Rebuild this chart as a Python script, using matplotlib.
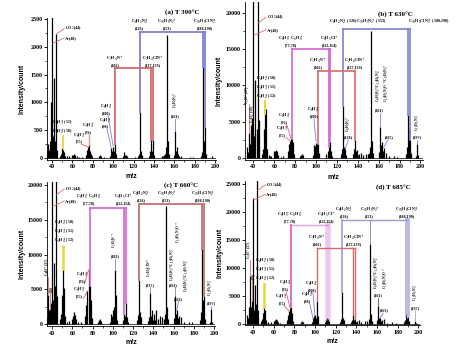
import matplotlib
matplotlib.use("Agg")
import matplotlib.pyplot as plt
from matplotlib.ticker import MultipleLocator

# peak lists (m/z, intensity)
peaks_a = [(34, 260), (35, 120), (36, 260), (37, 150), (38, 300), (39, 1000), (40, 2600), (41, 400),
           (42, 1440), (43, 300), (44, 2230), (45, 150), (48, 40), (49, 80), (50, 180), (51, 150),
           (52, 100), (53, 40), (55, 30), (57, 40), (60, 60), (61, 60), (62, 80), (63, 60), (64, 30),
           (66, 20), (69, 20), (73, 60), (74, 150), (75, 200), (76, 230), (77, 120), (78, 80), (79, 30),
           (86, 30), (87, 50), (88, 30), (91, 20), (97, 40), (98, 180), (99, 120), (100, 200), (101, 130),
           (102, 250), (103, 70), (110, 40), (111, 110), (112, 60), (113, 60), (114, 30), (121, 20),
           (124, 30), (125, 80), (126, 820), (127, 120), (128, 60), (135, 40), (136, 120), (137, 330),
           (138, 130), (139, 320), (140, 60), (148, 30), (149, 40), (150, 60), (151, 80), (152, 200),
           (153, 2210), (154, 300), (155, 80), (160, 60), (161, 490), (162, 120), (163, 200), (164, 80),
           (165, 40), (167, 40), (175, 20), (178, 20), (186, 40), (187, 100), (188, 1640), (189, 300),
           (190, 560), (191, 80), (197, 30)]

peaks_b = [(34, 1500), (35, 800), (36, 3500), (37, 2000), (38, 4500), (39, 5500), (40, 22000), (41, 3000),
           (42, 10700), (43, 4000), (44, 22000), (45, 5300), (48, 600), (49, 1200), (50, 4000), (51, 6000),
           (52, 6700), (53, 1200), (55, 400), (56, 300), (57, 300), (60, 900), (61, 1000), (62, 1100),
           (63, 900), (64, 400), (66, 200), (68, 300), (73, 900), (74, 2000), (75, 2400), (76, 2700),
           (77, 2600), (78, 2200), (79, 600), (85, 300), (86, 400), (87, 600), (88, 400), (97, 400),
           (98, 1800), (99, 1700), (100, 2100), (101, 2000), (102, 2000), (103, 700), (110, 500),
           (111, 900), (112, 1500), (113, 2200), (114, 900), (115, 300), (124, 500), (125, 1200),
           (126, 7200), (127, 1500), (128, 1200), (129, 400), (135, 500), (136, 1200), (137, 2500),
           (138, 1000), (139, 1100), (140, 400), (141, 600), (143, 700), (145, 400), (148, 500),
           (150, 600), (151, 700), (152, 1500), (153, 17500), (154, 2400), (155, 700), (160, 800),
           (161, 4300), (162, 1800), (163, 2200), (164, 900), (165, 1400), (167, 700), (170, 300),
           (175, 300), (178, 200), (186, 500), (187, 1500), (188, 5900), (189, 4000), (190, 2500),
           (191, 700), (196, 300), (197, 2000), (198, 400)]

peaks_c = [(34, 2000), (35, 1000), (36, 4200), (37, 2000), (38, 2200), (39, 3000), (40, 21000), (41, 3500),
           (42, 8800), (43, 5500), (44, 21000), (45, 4000), (48, 800), (49, 1500), (50, 4200), (51, 7900),
           (52, 5200), (53, 1200), (55, 400), (57, 500), (60, 800), (61, 1200), (62, 1700), (63, 1400),
           (64, 700), (66, 300), (69, 300), (73, 1200), (74, 2800), (75, 4800), (76, 7800), (77, 5500),
           (78, 3500), (79, 900), (85, 400), (86, 600), (87, 800), (88, 500), (97, 400), (98, 1500),
           (99, 1200), (100, 2000), (101, 2500), (102, 7800), (103, 4200), (104, 600), (110, 600),
           (111, 1500), (112, 1200), (113, 3000), (114, 1000), (115, 300), (124, 600), (125, 1400),
           (126, 6300), (127, 1800), (128, 1000), (135, 500), (136, 1000), (137, 4500), (138, 1200),
           (139, 2000), (140, 600), (141, 1500), (142, 600), (143, 2000), (145, 800), (147, 1200),
           (149, 1000), (151, 800), (152, 1500), (153, 17000), (154, 2500), (155, 800), (160, 900),
           (161, 4000), (162, 1500), (163, 2000), (164, 900), (165, 1200), (167, 1100), (170, 300),
           (175, 400), (178, 300), (186, 600), (187, 1800), (188, 10800), (189, 3500), (190, 4000),
           (191, 800), (196, 300), (197, 2200), (198, 400)]

peaks_d = [(34, 1500), (35, 1000), (36, 3000), (37, 8500), (38, 3000), (39, 4000), (40, 22600), (41, 2500),
           (42, 7000), (43, 3500), (44, 26000), (45, 2500), (48, 400), (49, 800), (50, 2000), (51, 3000),
           (52, 2500), (53, 700), (55, 300), (57, 300), (60, 500), (61, 700), (62, 900), (63, 700),
           (64, 300), (66, 200), (73, 600), (74, 1500), (75, 2200), (76, 2800), (77, 3000), (78, 2000),
           (79, 500), (86, 300), (87, 500), (88, 300), (97, 300), (98, 1000), (99, 1300), (100, 1500),
           (101, 1000), (102, 4000), (103, 1300), (110, 300), (111, 600), (112, 1000), (113, 800),
           (114, 500), (124, 300), (125, 800), (126, 5600), (127, 1000), (128, 600), (135, 300),
           (136, 600), (137, 1500), (138, 600), (139, 800), (140, 300), (141, 500), (143, 600),
           (145, 300), (148, 400), (150, 500), (152, 800), (153, 14300), (154, 1800), (155, 500),
           (160, 600), (161, 3200), (162, 1000), (163, 1000), (164, 500), (165, 700), (167, 900),
           (170, 200), (175, 300), (178, 200), (186, 300), (187, 600), (188, 1800), (189, 1000),
           (190, 1200), (191, 400), (197, 500), (198, 200)]

titles = ["(a) T 390°C", "(b) T 630°C", "(c) T 660°C", "(d) T 685°C"]
x_ticks = [40, 60, 80, 100, 120, 140, 160, 180, 200]

BLUE = "#7f7fd2"
RED = "#d46c6c"
MAG = "#d264d2"
YEL = "#e6d63a"
SAL = "#c47a7a"
LAV = "#9c9cd8"

serif = "Liberation Serif"
LFS = 3.0
RFS = 2.6

fig = plt.figure(figsize=(4.58, 3.62), dpi=100)
rects = [[0.1026, 0.5575, 0.369, 0.393],
         [0.535, 0.5575, 0.3875, 0.4367],
         [0.1026, 0.0983, 0.367, 0.3986],
         [0.535, 0.1011, 0.3817, 0.399]]
xlims = [(35, 201), (32, 202), (35, 201), (32.3, 201.5)]
ylims = [(-40, 2520), (-300, 21500), (-300, 20400), (-300, 25600)]
ysteps = [500, 5000, 5000, 5000]
all_peaks = [peaks_a, peaks_b, peaks_c, peaks_d]
title_pos = [(0.80, 1.035), (0.85, 0.92), (0.80, 0.97), (0.85, 0.95)]

axes = []
for i in range(4):
    ax = fig.add_axes(rects[i])
    mz = [p[0] for p in all_peaks[i]]
    h = [p[1] for p in all_peaks[i]]
    ax.vlines(mz, 0, h, color="black", lw=0.9)
    ax.axhline(0, color="black", lw=0.5)
    ax.set_xlim(*xlims[i])
    ax.set_ylim(*ylims[i])
    ax.set_xticks(x_ticks)
    ax.xaxis.set_minor_locator(MultipleLocator(10))
    ax.yaxis.set_major_locator(MultipleLocator(ysteps[i]))
    ax.yaxis.set_minor_locator(MultipleLocator(ysteps[i] / 2))
    ax.set_yticks([t for t in ax.get_yticks() if 0 <= t <= ylims[i][1]])
    ax.spines["top"].set_visible(False)
    ax.spines["right"].set_visible(False)
    for s in ["left", "bottom"]:
        ax.spines[s].set_linewidth(0.6)
    ax.tick_params(which="major", direction="out", length=2, width=0.6, labelsize=4.3, pad=1)
    ax.tick_params(which="minor", direction="out", length=1.2, width=0.5)
    for lab in ax.get_xticklabels() + ax.get_yticklabels():
        lab.set_fontfamily(serif)
        lab.set_fontweight("bold")
    ax.set_ylabel("Intensity/count", fontsize=5, fontweight="bold", family="Liberation Sans")
    ax.yaxis.set_label_coords(-0.125, 0.5)
    ax.set_xlabel("m/z", fontsize=5, fontweight="bold", family="Liberation Sans")
    ax.xaxis.set_label_coords(0.5, -0.09)
    ax.text(title_pos[i][0], title_pos[i][1], titles[i], transform=ax.transAxes, ha="center",
            va="center", fontsize=5, fontweight="bold", family=serif)
    axes.append(ax)


def lab(ax, x, y, s, rot=0, va="bottom", ha="center", fs=LFS):
    ax.text(x, y, s, fontsize=fs, family=serif, ha=ha, va=va, rotation=rot,
            linespacing=1.0, fontweight="bold")


def rlab(ax, x, y, s):
    lab(ax, x, y, s, rot=90, fs=RFS)


def bracket(ax, peaks, xs, level, color, lw=1.2, alpha=1.0):
    h = dict(peaks)
    for x in xs:
        ax.plot([x, x], [h[x], level], color=color, lw=lw, alpha=alpha)
    ax.plot([min(xs), max(xs)], [level, level], color=color, lw=lw, alpha=alpha)


def pointer(ax, x0, y0, x1, y1, color, lw=0.6):
    ax.plot([x0, x1], [y0, y1], color=color, lw=lw)


def gas_labels(ax, co2_y, ar_y, ymax):
    pointer(ax, 44.5, co2_y - 0.04 * ymax, 52, co2_y, RED)
    pointer(ax, 40.5, ar_y - 0.04 * ymax, 52, ar_y, RED)
    lab(ax, 53, co2_y, "CO$_2$(44)", va="center", ha="left")
    lab(ax, 53, ar_y, "Ar(40)", va="center", ha="left")


# (a)
ax = axes[0]
gas_labels(ax, 2330, 2160, 2500)
bracket(ax, peaks_a, [126, 188, 190], 2270, BLUE, lw=1.3)
bracket(ax, peaks_a, [102, 137, 139], 1610, RED, lw=1.3)
for x, s in [(126, "C$_8$H$_2$N$_2^+$\n(126)"), (153, "C$_{10}$H$_5$N$_2^+$\n(153)"),
             (190, "C$_{10}$H$_5$ClN$_2^+$\n(188,190)")]:
    lab(ax, x, 2300, s)
lab(ax, 102, 1640, "C$_7$H$_4$N$^+$\n(102)")
lab(ax, 139, 1640, "C$_7$H$_4$ClN$^+$\n(137,139)")
ax.plot([50.5, 50.5], [180, 390], color=YEL, lw=1.3)
lab(ax, 50, 400, "C$_4$H$_3^+$(51)\nC$_4$H$_2^+$(50)")
ax.plot([76, 76], [230, 420], color=RED, lw=1.0, alpha=0.7)
lab(ax, 76, 430, "C$_6$H$_4^+$\n(76)")
pointer(ax, 75, 200, 69, 250, RED)
lab(ax, 67, 260, "C$_6$H$_3^+$\n(75)")
pointer(ax, 98, 190, 94, 520, BLUE)
lab(ax, 92, 530, "C$_8$H$_2^+$\n(98)")
pointer(ax, 100, 210, 95, 760, BLUE)
lab(ax, 93, 770, "C$_8$H$_4^+$\n(100)")
pointer(ax, 161, 500, 161, 700, BLUE)
lab(ax, 161, 710, "(161)")
rlab(ax, 161, 900, "C$_9$H$_3$N$_3^+$")

# (b)
ax = axes[1]
gas_labels(ax, 19400, 17700, 20000)
bracket(ax, peaks_b, [126, 188, 190], 17800, BLUE, lw=1.2)
bracket(ax, peaks_b, [77, 112, 113], 15000, MAG, lw=1.2)
bracket(ax, peaks_b, [102, 137], 12000, RED, lw=1.2)
lab(ax, 126, 18200, "C$_8$H$_2$N$_2^+$ (126)")
lab(ax, 153, 18200, "C$_{10}$H$_5$N$_2^+$ (153)")
lab(ax, 188, 18200, "C$_{10}$H$_5$ClN$_2^+$ (188,190)", ha="left")
lab(ax, 76, 15300, "C$_6$H$_5^+$ C$_6$H$_6^+$\n(77,78)")
lab(ax, 113, 15300, "C$_6$H$_5$Cl$^+$\n(112,114)")
lab(ax, 102, 12300, "C$_7$H$_4$N$^+$\n(102)")
lab(ax, 137, 12300, "C$_7$H$_4$ClN$^+$\n(137,139)")
ax.plot([51, 51], [6000, 7800], color=YEL, lw=1.5)
lab(ax, 52, 7900, "C$_4$H$_2^+$(50)\nC$_4$H$_3^+$(51)\nC$_4$H$_4^+$(52)")
pointer(ax, 36, 3500, 36, 7400, RED)
pointer(ax, 38, 4500, 38, 4700, RED)
rlab(ax, 35.0, 7500, "C$_3$H$^+$(37)")
rlab(ax, 38.8, 4800, "C$_3$H$_2^+$(38)")
pointer(ax, 76, 2700, 72, 4600, RED)
lab(ax, 70, 4700, "C$_6$H$_4^+$\n(76)")
pointer(ax, 75, 2400, 71, 2800, RED)
lab(ax, 68, 2900, "C$_6$H$_3^+$\n(75)")
pointer(ax, 100, 2300, 98, 5400, BLUE)
lab(ax, 98, 5500, "C$_8$H$_4^+$\n(100)")
pointer(ax, 128, 1300, 131, 2500, BLUE)
lab(ax, 131, 2600, "(128)")
rlab(ax, 131, 3600, "C$_8$H$_4$N$_2^+$")
pointer(ax, 161, 4400, 161, 6200, BLUE)
lab(ax, 161, 6300, "(161)")
rlab(ax, 159.5, 7700, "C$_9$H$_3$N$_3^+$/C$_{10}$H$_6$N$_2^+$")
rlab(ax, 167.5, 7700, "C$_{10}$H$_5$N$_2$O$^+$/C$_9$H$_5$N$_3^+$")
pointer(ax, 165, 1500, 169, 2500, BLUE)
lab(ax, 170, 2600, "(165)")
pointer(ax, 197, 2000, 197, 2500, BLUE)
lab(ax, 197, 2600, "(197)")
rlab(ax, 197, 3700, "C$_{11}$H$_5$N$_3^+$")

# (c)
ax = axes[2]
gas_labels(ax, 19400, 17700, 20000)
bracket(ax, peaks_c, [77, 111, 113], 16700, MAG, lw=1.2)
bracket(ax, peaks_c, [126, 188, 190], 17300, SAL, lw=1.4)
lab(ax, 76, 17100, "C$_6$H$_5^+$ C$_6$H$_6^+$\n(77,78)")
lab(ax, 110.5, 17100, "C$_6$H$_5$Cl$^+$\n(112,114)")
lab(ax, 128, 17600, "C$_8$H$_2$N$_2^+$\n(126)")
lab(ax, 153, 17600, "C$_{10}$H$_5$N$_2^+$\n(153)")
lab(ax, 189, 17600, "C$_{10}$H$_5$ClN$_2^+$\n(188,190)")
ax.plot([51, 51], [7900, 11300], color=YEL, lw=1.8)
lab(ax, 52, 11400, "C$_4$H$_2^+$(50)\nC$_4$H$_3^+$(51)\nC$_4$H$_4^+$(52)")
pointer(ax, 36, 4200, 36, 6800, RED)
pointer(ax, 38, 2200, 38, 4500, RED)
rlab(ax, 35.8, 7000, "C$_3$H$^+$(37)")
rlab(ax, 39.0, 4600, "(38)")
pointer(ax, 76, 7800, 72, 5800, RED)
lab(ax, 70, 5900, "C$_6$H$_4^+$\n(76)")
pointer(ax, 75, 4800, 71, 3700, RED)
lab(ax, 67, 3800, "C$_6$H$_3^+$\n(75)")
pointer(ax, 102, 7800, 102, 9400, BLUE)
lab(ax, 102, 9500, "(102)")
rlab(ax, 102, 10900, "C$_7$H$_4$N$^+$")
pointer(ax, 137, 4500, 137, 5300, BLUE)
lab(ax, 137, 5400, "(137)")
rlab(ax, 137, 6800, "C$_7$H$_4$ClN$^+$")
pointer(ax, 161, 4000, 161, 5300, BLUE)
lab(ax, 160, 5400, "(161)")
rlab(ax, 158.5, 6200, "C$_9$H$_3$N$_3^+$/C$_{10}$H$_6$N$_2^+$")
rlab(ax, 165.5, 11700, "C$_{10}$H$_5$N$_2$O$^+$")
rlab(ax, 172.5, 4600, "C$_9$H$_5$N$_3^+$/C$_{10}$H$_7$N$_2^+$")
pointer(ax, 163, 2000, 165, 3300, BLUE)
lab(ax, 165, 3400, "(163)")
pointer(ax, 197, 2200, 197, 2600, BLUE)
lab(ax, 197, 2700, "(197)")
rlab(ax, 197, 4100, "C$_{11}$H$_5$N$_3^+$")

# (d)
ax = axes[3]
gas_labels(ax, 24900, 23200, 25000)
bracket(ax, peaks_d, [77], 17700, MAG, lw=1.3)
ax.plot([77, 113], [17700, 17700], color=MAG, lw=1.0, alpha=0.6)
ax.plot([113, 113], [1000, 17700], color=MAG, lw=4, alpha=0.35)
bracket(ax, peaks_d, [126], 18600, LAV, lw=1.2)
ax.plot([126, 189], [18600, 18600], color=LAV, lw=1.0)
ax.plot([189, 189], [1800, 18600], color=LAV, lw=3.5, alpha=0.7)
bracket(ax, peaks_d, [102, 137, 139], 13600, RED, lw=1.0)
ax.plot([153, 153], [14300, 18600], color="#888888", lw=0.6)
lab(ax, 76, 18000, "C$_6$H$_5^+$ C$_6$H$_6^+$\n(77,78)")
lab(ax, 111.5, 18000, "C$_6$H$_5$Cl$^+$\n(112,114)")
lab(ax, 128, 18900, "C$_8$H$_2$N$_2^+$\n(126)")
lab(ax, 153, 18900, "C$_{10}$H$_5$N$_2^+$\n(153)")
lab(ax, 189, 18900, "C$_{10}$H$_5$ClN$_2^+$\n(188,190)")
lab(ax, 102, 13900, "C$_7$H$_4$N$^+$\n(102)")
lab(ax, 138, 13900, "C$_7$H$_4$ClN$^+$\n(137,139)")
ax.plot([51, 51], [3000, 7200], color=YEL, lw=1.8)
lab(ax, 52, 7300, "C$_4$H$_2^+$(50)\nC$_4$H$_3^+$(51)\nC$_4$H$_4^+$(52)")
pointer(ax, 37, 8500, 37, 11500, RED)
pointer(ax, 39, 4000, 39, 8000, RED)
rlab(ax, 36.5, 11600, "C$_3$H$^+$(37)")
rlab(ax, 39.6, 8100, "(38)")
pointer(ax, 76, 2800, 72, 5700, RED)
lab(ax, 71, 5800, "C$_6$H$_4^+$\n(76)")
pointer(ax, 75, 2200, 70, 3300, RED)
lab(ax, 68, 3400, "C$_6$H$_3^+$\n(75)")
pointer(ax, 100, 1500, 98, 5600, BLUE)
lab(ax, 97, 5700, "C$_8$H$_4^+$\n(100)")
pointer(ax, 98, 1000, 95, 3600, BLUE)
lab(ax, 93, 3700, "C$_8$H$_2^+$\n(98)")
pointer(ax, 161, 3200, 161, 4700, "#555555")
lab(ax, 161, 4800, "(161)")
rlab(ax, 160, 6300, "C$_9$H$_3$N$_3^+$/C$_{10}$H$_6$N$_2^+$")
rlab(ax, 168.5, 6300, "C$_{10}$H$_5$N$_2$O$^+$")
pointer(ax, 163, 1000, 166, 1900, BLUE)
lab(ax, 167, 2000, "(163)")
pointer(ax, 197, 500, 197, 2400, "#aaaaaa")
lab(ax, 197, 2500, "(197)")
rlab(ax, 197, 4000, "C$_{11}$H$_5$N$_3^+$")

fig.savefig("out.png", dpi=100)
